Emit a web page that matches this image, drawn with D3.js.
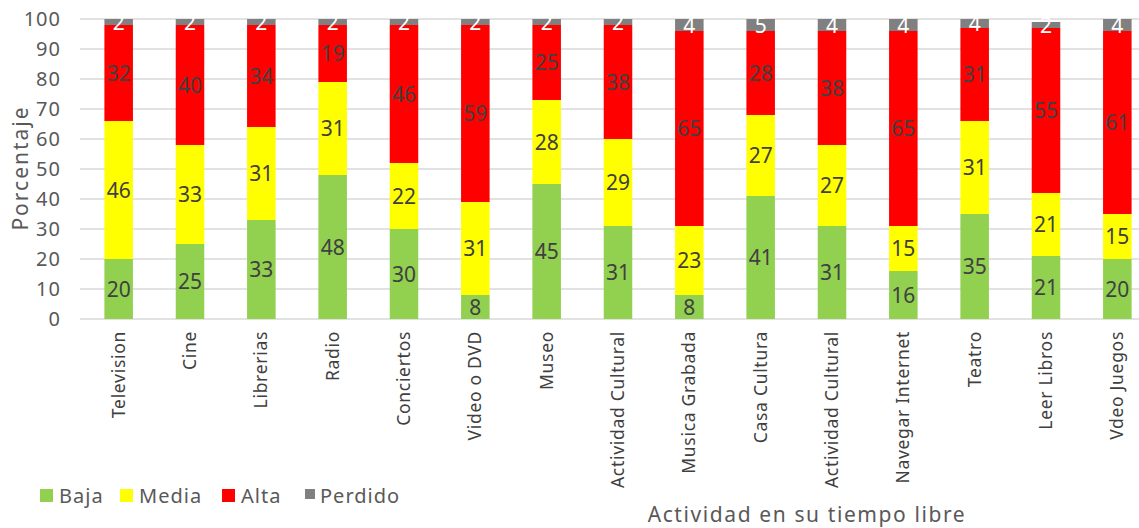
<!DOCTYPE html>
<html>
<head>
<meta charset="utf-8">
<script src="https://cdn.jsdelivr.net/npm/d3@7"></script>
<style>
  body { margin: 0; background: #fff; }
  text { font-family: "Noto Sans", "Open Sans", sans-serif; }
</style>
</head>
<body>
<script>
// categories and series
const categories = ["Television", "Cine", "Librerias", "Radio", "Conciertos", "Video o DVD", "Museo",
  "Actividad Cultural", "Musica Grabada", "Casa Cultura", "Actividad Cultural ", "Navegar Internet",
  "Teatro", "Leer Libros", "Vdeo Juegos"];
const baja    = [20, 25, 33, 48, 30, 8, 45, 31, 8, 41, 31, 16, 35, 21, 20];
const media   = [46, 33, 31, 31, 22, 31, 28, 29, 23, 27, 27, 15, 31, 21, 15];
const alta    = [32, 40, 34, 19, 46, 59, 25, 38, 65, 28, 38, 65, 31, 55, 61];
const perdido = [2, 2, 2, 2, 2, 2, 2, 2, 4, 5, 4, 4, 4, 2, 4];
const seriesNames = ["Baja", "Media", "Alta", "Perdido"];
const seriesColors = ["#92d050", "#ffff00", "#ff0000", "#808080"];
const yTicks = [0, 10, 20, 30, 40, 50, 60, 70, 80, 90, 100];

const W = 1139, H = 528;
const plotLeft = 83, plotRight = 1153, plotTop = 19, plotBottom = 319;

const rows = categories.map((c, i) => ({
  cat: c, Baja: baja[i], Media: media[i], Alta: alta[i], Perdido: perdido[i]
}));

const svg = d3.select("body").append("svg")
  .attr("width", W).attr("height", H);

const x = d3.scaleBand().domain(categories).range([plotLeft, plotRight]).paddingInner(0.6).paddingOuter(0.3);
const y = d3.scaleLinear().domain([0, 100]).range([plotBottom, plotTop]).clamp(true);
const color = d3.scaleOrdinal().domain(seriesNames).range(seriesColors);

// gridlines
svg.append("g")
  .selectAll("line")
  .data(yTicks)
  .enter().append("line")
  .attr("x1", 80).attr("x2", plotRight)
  .attr("y1", d => y(d)).attr("y2", d => y(d))
  .attr("stroke", "#d9d9d9").attr("stroke-width", 1.5);

// y tick labels
svg.append("g")
  .selectAll("text")
  .data(yTicks)
  .enter().append("text")
  .attr("x", 61).attr("y", d => y(d))
  .attr("dy", "0.35em")
  .attr("text-anchor", "end")
  .attr("fill", "#595959")
  .style("font-size", "20px")
  .style("letter-spacing", "1px")
  .text(d => d);

const stacked = d3.stack().keys(seriesNames)(rows);

const layer = svg.append("g")
  .selectAll("g")
  .data(stacked)
  .enter().append("g")
  .attr("fill", d => color(d.key));

layer.selectAll("rect")
  .data(d => d)
  .enter().append("rect")
  .attr("x", d => x(d.data.cat))
  .attr("width", x.bandwidth())
  .attr("y", d => y(d[1]))
  .attr("height", d => y(d[0]) - y(d[1]));

// data labels
svg.append("g")
  .selectAll("g")
  .data(stacked)
  .enter().append("g")
  .selectAll("text")
  .data(s => s.map(d => ({ key: s.key, d: d })))
  .enter().append("text")
  .attr("x", o => x(o.d.data.cat) + x.bandwidth() / 2)
  .attr("y", o => (y(o.d[0]) + y(o.d[1])) / 2)
  .attr("dy", "0.36em")
  .attr("text-anchor", "middle")
  .attr("fill", o => o.key === "Perdido" ? "#ffffff" : "#404040")
  .style("font-size", "21px")
  .text(o => o.d.data[o.key]);

// category labels, rotated
svg.append("g")
  .selectAll("text")
  .data(categories)
  .enter().append("text")
  .attr("transform", d => "translate(" + (x(d) + x.bandwidth() / 2 + 6) + "," + 331 + ") rotate(-90)")
  .attr("text-anchor", "end")
  .attr("fill", "#404040")
  .style("font-size", "17.5px")
  .style("letter-spacing", "0.7px")
  .text(d => d.trim());

// axis titles
svg.append("text")
  .attr("transform", "translate(28,168) rotate(-90)")
  .attr("text-anchor", "middle")
  .attr("fill", "#595959")
  .style("font-size", "21px")
  .style("letter-spacing", "2px")
  .text("Porcentaje");

svg.append("text")
  .attr("x", 807).attr("y", 522)
  .attr("text-anchor", "middle")
  .attr("fill", "#595959")
  .style("font-size", "21px")
  .style("letter-spacing", "1.6px")
  .text("Actividad en su tiempo libre");

// legend
const legendX = [40, 120, 222, 305];
const legend = svg.append("g")
  .selectAll("g")
  .data(seriesNames)
  .enter().append("g")
  .attr("transform", (d, i) => "translate(" + legendX[i] + ",496)");

legend.append("rect")
  .attr("x", 0).attr("y", -7)
  .attr("width", d => d === "Perdido" ? 10 : 13)
  .attr("height", d => d === "Perdido" ? 10 : 13)
  .attr("fill", d => color(d));

legend.append("text")
  .attr("x", d => d === "Perdido" ? 15 : 19).attr("y", 0)
  .attr("dy", "0.35em")
  .attr("fill", "#595959")
  .style("font-size", "20px")
  .style("letter-spacing", "1px")
  .text(d => d);
</script>
</body>
</html>
